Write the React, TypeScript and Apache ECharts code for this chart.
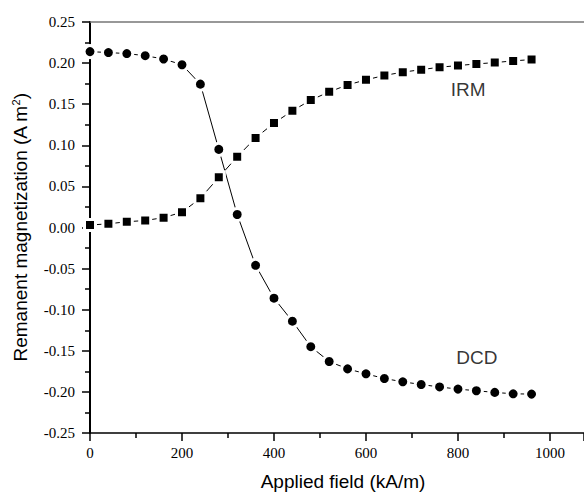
import React, { useEffect, useRef } from "react";
import * as echarts from "echarts";

const fields = [0, 40, 80, 120, 160, 200, 240, 280, 320, 360, 400, 440, 480, 520, 560, 600, 640, 680, 720, 760, 800, 840, 880, 920, 960];
const irm = [0.003, 0.0045, 0.007, 0.0085, 0.012, 0.0186, 0.0356, 0.061, 0.086, 0.109, 0.127, 0.142, 0.155, 0.165, 0.1735, 0.1796, 0.185, 0.189, 0.192, 0.195, 0.197, 0.199, 0.2006, 0.2027, 0.2043];
const dcd = [0.214, 0.2128, 0.2116, 0.209, 0.205, 0.198, 0.1744, 0.095, 0.0158, -0.046, -0.086, -0.114, -0.145, -0.163, -0.172, -0.178, -0.1837, -0.1877, -0.191, -0.194, -0.1966, -0.1986, -0.2006, -0.2023, -0.2027];
const annotations = [
  { name: "IRM", x: 822, y: 0.1675 },
  { name: "DCD", x: 841, y: -0.158 },
];

const serif = "Liberation Serif";
const sans = "Liberation Sans";

export default function App() {
  const ref = useRef<HTMLDivElement>(null);
  useEffect(() => {
    if (!ref.current) return;
    const chart = echarts.init(ref.current, undefined, { renderer: "svg" });
    const marker = (symbol: string, size: number) => ({
      type: "line" as const,
      symbol,
      symbolSize: size,
      showAllSymbol: true,
      lineStyle: { color: "#000", width: 1 },
      itemStyle: { color: "#000", borderColor: "#fff", borderWidth: 3 },
      z: 3,
    });
    chart.setOption({
      animation: false,
      backgroundColor: "#fff",
      grid: { left: 90, top: 22, right: 0, bottom: 62 },
      xAxis: [
        {
          type: "value",
          min: 0,
          max: 1074,
          interval: 200,
          name: "Applied field (kA/m)",
          nameLocation: "middle",
          nameGap: 39,
          nameTextStyle: { fontFamily: sans, fontSize: 19, color: "#000", padding: [0, 0, 0, 12] },
          axisLine: { onZero: false, lineStyle: { color: "#000", width: 1.5 } },
          axisTick: { show: true, inside: false, length: 8, lineStyle: { color: "#000", width: 1.5 } },
          minorTick: { show: true, splitNumber: 2, length: 5, lineStyle: { color: "#000", width: 1.5 } },
          axisLabel: {
            fontFamily: serif,
            fontSize: 15,
            color: "#000",
            margin: 12,
            showMaxLabel: false,
            formatter: (v: number) => String(v),
          },
          splitLine: { show: false },
        },
        {
          type: "value",
          position: "top",
          min: 0,
          max: 1074,
          axisLine: { show: true, onZero: false, lineStyle: { color: "#777", width: 1.5 } },
          axisTick: { show: false },
          axisLabel: { show: false },
          splitLine: { show: false },
        },
      ],
      yAxis: {
        type: "value",
        min: -0.25,
        max: 0.25,
        interval: 0.05,
        name: "Remanent magnetization (A m{sup|2})",
        nameLocation: "middle",
        nameGap: 60,
        nameTextStyle: {
          fontFamily: sans,
          fontSize: 19,
          color: "#000",
          rich: { sup: { fontFamily: sans, fontSize: 11, color: "#000", verticalAlign: "bottom", padding: [0, 0, 9, 0] } },
        },
        axisLine: { onZero: false, lineStyle: { color: "#000", width: 2 } },
        axisTick: { show: true, length: 8, lineStyle: { color: "#000", width: 1.5 } },
        minorTick: { show: true, splitNumber: 2, length: 5, lineStyle: { color: "#000", width: 1.5 } },
        axisLabel: {
          fontFamily: serif,
          fontSize: 15,
          color: "#000",
          margin: 15,
          formatter: (v: number) => v.toFixed(2),
        },
        splitLine: { show: false },
      },
      series: [
        { ...marker("rect", 11), name: "IRM", data: fields.map((f, i) => [f, irm[i]]) },
        { ...marker("circle", 12), name: "DCD", data: fields.map((f, i) => [f, dcd[i]]) },
        {
          type: "scatter",
          symbolSize: 0,
          data: annotations.map((a) => ({ name: a.name, value: [a.x, a.y] })),
          label: {
            show: true,
            position: "inside",
            formatter: (p: any) => p.name,
            fontFamily: sans,
            fontSize: 19,
            color: "#000",
          },
          z: 5,
        },
      ],
    });
    return () => chart.dispose();
  }, []);
  return <div ref={ref} style={{ position: "fixed", left: 0, top: 0, width: 584, height: 496 }} />;
}
